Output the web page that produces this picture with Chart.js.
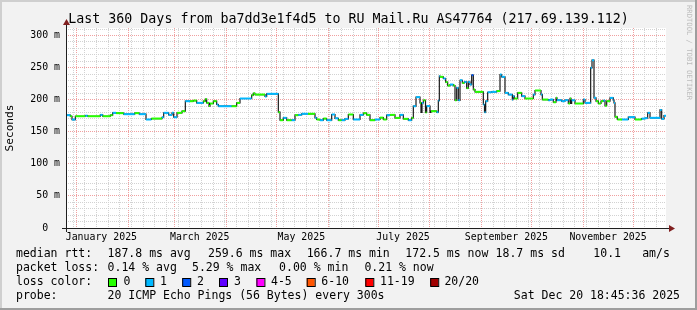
<!DOCTYPE html>
<html>
<head>
<meta charset="utf-8">
<title>Smokeping - RU Mail.Ru AS47764</title>
<script src="https://cdn.jsdelivr.net/npm/chart.js@4.4.1/dist/chart.umd.min.js"></script>
<style>
  html, body { margin: 0; padding: 0; background: #f2f2f2; }
  canvas { display: block; }
</style>
</head>
<body>
<canvas id="chart" width="697" height="310"></canvas>
<script>
'use strict';

// graph window: 360 days ending Sat Dec 20 18:45:36 2025
var windowDays = 360;
var startTime = Date.UTC(2024, 11, 25, 18, 45, 36);

// median rtt as steps: day (from window start) where the level begins, value in ms, loss colour index
var runDay = [
    0.6, 2.6, 3.6, 5.6, 11.6, 13.0, 20.6, 22.0, 26.6, 28.0,
    30.0, 34.6, 41.2, 44.0, 48.0, 51.2, 57.6, 58.6, 61.6, 63.6,
    64.6, 66.6, 69.6, 71.6, 74.4, 76.4, 78.4, 82.4, 83.6, 84.4,
    85.8, 86.4, 88.4, 90.4, 91.4, 99.4, 102.4, 104.4, 111.4, 112.4,
    113.4, 119.4, 120.4, 127.4, 128.4, 130.4, 132.4, 135.4, 137.4, 139.4,
    141.4, 145.2, 149.4, 150.4, 152.4, 154.4, 156.4, 159.4, 161.4, 163.4,
    165.4, 167.4, 169.4, 172.4, 176.4, 178.4, 180.4, 182.4, 185.4, 188.4,
    190.4, 192.4, 194.4, 197.4, 200.4, 202.4, 205.4, 207.4, 208.4, 210.0,
    212.4, 213.0, 213.6, 214.4, 215.7, 216.4, 218.4, 219.0, 222.4, 223.4,
    224.0, 224.4, 226.4, 227.8, 229.0, 230.4, 232.4, 233.4, 234.4, 235.4,
    236.4, 237.8, 239.0, 240.4, 241.4, 242.4, 243.4, 244.4, 245.4, 250.4,
    251.1, 251.8, 253.0, 255.4, 258.4, 260.4, 261.4, 263.4, 265.4, 267.8,
    268.2, 269.0, 271.0, 273.4, 275.4, 280.4, 281.4, 285.0, 285.8, 289.4,
    290.4, 292.4, 294.0, 294.6, 297.4, 299.4, 301.4, 302.4, 303.0, 303.4,
    305.4, 310.4, 311.4, 314.8, 315.6, 316.8, 318.0, 319.4, 321.0, 322.4,
    323.4, 324.4, 326.4, 328.4, 328.8, 329.4, 330.8, 333.6, 337.4, 341.4,
    345.4, 347.4, 349.0, 350.4, 356.4, 357.4, 358.8
];
var runMs = [
    175.8, 174.2, 169, 174.2, 175, 174.2, 176.3, 174.2, 175.8, 179.5,
    179, 177.4, 179, 177.4, 169.1, 170.6, 172.6, 179.5, 176.3, 179.5,
    172.6, 179.5, 182, 197.6, 197.6, 198.6, 195, 197.6, 201, 195,
    190, 194, 197.6, 192.5, 189.8, 189.8, 195, 201.8, 207, 210,
    208, 205, 209.1, 180.5, 168, 171.7, 168, 168, 175.8, 176.3,
    178, 178, 172, 169.1, 168, 170.6, 168, 176.9, 171, 168,
    168, 170, 176.9, 169.1, 176.3, 178.9, 176.3, 168, 169.1, 172,
    169.1, 175.8, 176.3, 171.6, 176.3, 170.1, 168, 171.6, 189.8, 203.9,
    195, 180, 195, 199, 180, 190, 180, 182, 180.5, 198.6,
    236.6, 235.6, 233, 227.3, 222, 223.6, 222, 199, 218.4, 199,
    230.3, 226, 227.7, 218, 227.7, 223.6, 238.2, 215.8, 212.2, 192.5,
    180.5, 197.6, 211.6, 212.2, 213.4, 239.2, 235.6, 210.6, 208, 200,
    205.5, 201.8, 210.6, 205.5, 201.8, 208, 214.3, 208, 200.2, 199.2,
    200.2, 196, 202.8, 199.2, 197.6, 199.2, 194, 202, 194, 199,
    194, 200.2, 195, 249.6, 261.5, 202.8, 197.6, 194, 197.6, 198.6,
    190.5, 197.6, 202.8, 199, 195, 173.3, 169.1, 169.1, 172.7, 169.1,
    170.5, 171.2, 179.5, 171.7, 184, 170, 175
];
var runLoss = [
    1, 0, 1, 0, 1, 0, 1, 0, 0, 1,
    0, 1, 0, 1, 1, 0, 1, 1, 1, 1,
    1, 0, 0, 1, 0, 0, 1, 0, 0, 0,
    0, 0, 0, 1, 1, 0, 0, 1, 0, 0,
    0, 1, 1, 0, 0, 1, 0, 1, 0, 1,
    1, 0, 1, 0, 1, 0, 1, 1, 1, 0,
    1, 1, 0, 1, 1, 0, 0, 0, 1, 0,
    0, 1, 0, 0, 1, 0, 1, 0, 1, 1,
    0, 0, 1, 0, 0, 1, 1, 0, 1, 1,
    1, 0, 1, 0, 0, 1, 0, 0, 1, 1,
    1, 0, 1, 0, 1, 1, 2, 0, 0, 1,
    1, 1, 1, 1, 0, 1, 1, 1, 1, 1,
    1, 0, 0, 1, 0, 1, 0, 1, 0, 1,
    1, 0, 0, 1, 1, 1, 0, 0, 0, 1,
    0, 1, 1, 1, 1, 1, 0, 0, 0, 1,
    0, 0, 1, 1, 1, 0, 0, 1, 1, 0,
    1, 1, 1, 1, 1, 1, 1
];

var lossLabels = ['0', '1', '2', '3', '4-5', '6-10', '11-19', '20/20'];
var lossColors = ['#26ff00', '#00b8ff', '#0059ff', '#5e00ff', '#ff00ff', '#ff5500', '#ff0000', '#a00000'];

var monthNames = ['January', 'February', 'March', 'April', 'May', 'June', 'July',
    'August', 'September', 'October', 'November', 'December'];
var labelMonths = [0, 2, 4, 6, 8, 10];
var labelYear = 2025;

var yMax = 311.7;
var yStep = 10;
var yLabelStep = 50;

var titleText = 'Last 360 Days from ba7dd3e1f4d5 to RU Mail.Ru AS47764 (217.69.139.112)';
var rttStats = ['median rtt:', '187.8 ms avg', '259.6 ms max', '166.7 ms min', '172.5 ms now', '18.7 ms sd', '10.1', 'am/s'];
var lossStats = ['packet loss:', '0.14 % avg', '5.29 % max', '0.00 % min', '0.21 % now'];
var probeStats = ['probe:', '20 ICMP Echo Pings (56 Bytes) every 300s'];
var stampText = 'Sat Dec 20 18:45:36 2025';

// footer layout (pixels)
var rttX = [16, 107.6, 208, 306.7, 405.3, 495.6, 593.3, 642.2];
var lossX = [16, 107.6, 192, 279.1, 364.4];
var boxX = [108, 145.3, 182.2, 219, 256.4, 306.7, 365.3, 430.2];
var boxLabelX = [123.6, 160, 197, 234, 271, 321.3, 380, 444.4];
var rowY = [254.5, 268.5, 282.5, 296];

var MONO = "'DejaVu Sans Mono', monospace";
var gridGray = '#d2d2d2';
var gridRed = '#f0a0a0';

function dayOf(t) {
    return (t - startTime) / 86400000;
}

// x ticks: weekly minor lines, monthly major lines, labels mid-month
var xTicks = (function () {
    var map = {};
    var t = Date.UTC(2024, 11, 30);
    while (dayOf(t) < windowDays) {
        map[dayOf(t).toFixed(4)] = {value: dayOf(t), kind: 'week'};
        t += 7 * 86400000;
    }
    for (var m = 0; m < 12; m++) {
        var d = dayOf(Date.UTC(labelYear, m, 1));
        map[d.toFixed(4)] = {value: d, kind: 'month'};
    }
    var list = Object.keys(map).map(function (k) { return map[k]; });
    labelMonths.forEach(function (m) {
        list.push({
            value: dayOf(Date.UTC(labelYear, m, 1)) + 15,
            kind: 'label',
            text: monthNames[m] + ' ' + labelYear
        });
    });
    list.sort(function (a, b) { return a.value - b.value; });
    return list;
})();

// black stepped median and the loss-coloured flat parts on top of it
var stepData = runDay.map(function (d, i) { return {x: d, y: runMs[i]}; });
stepData.push({x: windowDays, y: runMs[runMs.length - 1]});

var lossData = [];
runDay.forEach(function (d, i) {
    var end = i < runDay.length - 1 ? runDay[i + 1] : windowDays;
    lossData.push({x: d, y: runMs[i]});
    lossData.push({x: end, y: runMs[i]});
    lossData.push({x: end, y: null});
});

var rrdPlugin = {
    id: 'rrd',
    beforeDraw: function (chart) {
        var ctx = chart.ctx, a = chart.chartArea;
        ctx.save();
        ctx.fillStyle = '#f2f2f2';
        ctx.fillRect(0, 0, chart.width, chart.height);
        ctx.fillStyle = '#ffffff';
        ctx.fillRect(a.left, a.top, a.right - a.left, a.bottom - a.top);
        ctx.restore();
    },
    afterDraw: function (chart) {
        var ctx = chart.ctx, a = chart.chartArea;
        var W = chart.width, H = chart.height;
        var ax = a.left + 0.5, ay = a.bottom + 0.5;
        ctx.save();

        // axes and arrows
        ctx.strokeStyle = '#1f1f1f';
        ctx.lineWidth = 1;
        ctx.beginPath();
        ctx.moveTo(a.left - 4, ay);
        ctx.lineTo(a.right + 4, ay);
        ctx.moveTo(ax, a.bottom + 4);
        ctx.lineTo(ax, a.top - 4);
        ctx.stroke();
        ctx.fillStyle = '#801f1f';
        ctx.beginPath();
        ctx.moveTo(a.right + 3, ay - 3.5);
        ctx.lineTo(a.right + 3, ay + 3.5);
        ctx.lineTo(a.right + 9, ay);
        ctx.closePath();
        ctx.fill();
        ctx.beginPath();
        ctx.moveTo(ax - 3.5, a.top - 3);
        ctx.lineTo(ax + 3.5, a.top - 3);
        ctx.lineTo(ax, a.top - 9);
        ctx.closePath();
        ctx.fill();

        // title
        ctx.fillStyle = '#000';
        ctx.textBaseline = 'middle';
        ctx.textAlign = 'center';
        ctx.font = '13.3px ' + MONO;
        ctx.fillText(titleText, W / 2, 19.5);

        // footer legend
        ctx.textAlign = 'left';
        ctx.font = '11.5px ' + MONO;
        rttStats.forEach(function (s, i) { ctx.fillText(s, rttX[i], rowY[0]); });
        lossStats.forEach(function (s, i) { ctx.fillText(s, lossX[i], rowY[1]); });
        ctx.fillText('loss color:', 16, rowY[2]);
        lossLabels.forEach(function (s, i) {
            ctx.fillStyle = lossColors[i];
            ctx.fillRect(boxX[i], rowY[2] - 4.5, 8, 8);
            ctx.strokeStyle = '#000';
            ctx.strokeRect(boxX[i] + 0.5, rowY[2] - 4, 8, 8);
            ctx.fillStyle = '#000';
            ctx.fillText(s, boxLabelX[i], rowY[2]);
        });
        ctx.fillText(probeStats[0], 16, rowY[3]);
        ctx.fillText(probeStats[1], 107.6, rowY[3]);
        ctx.textAlign = 'right';
        ctx.fillText(stampText, 680, rowY[3]);

        // watermark
        ctx.save();
        ctx.translate(689, 5);
        ctx.rotate(Math.PI / 2);
        ctx.textAlign = 'left';
        ctx.fillStyle = '#bdbdbd';
        ctx.font = '7.2px ' + MONO;
        ctx.fillText('RRDTOOL / TOBI OETIKER', 0, 0);
        ctx.restore();

        // frame
        ctx.fillStyle = '#cfcfcf';
        ctx.fillRect(0, 0, W, 2);
        ctx.fillRect(0, 0, 2, H);
        ctx.fillStyle = '#9e9e9e';
        ctx.fillRect(0, H - 2, W, 2);
        ctx.fillRect(W - 2, 0, 2, H);
        ctx.restore();
    }
};

Chart.defaults.font.family = MONO;
Chart.defaults.color = '#000';

new Chart(document.getElementById('chart'), {
    type: 'line',
    data: {
        datasets: [
            {
                label: 'loss',
                data: lossData,
                order: 0,
                borderColor: lossColors[0],
                borderWidth: 2,
                borderCapStyle: 'butt',
                pointRadius: 0,
                spanGaps: false,
                fill: false,
                segment: {
                    borderColor: function (c) {
                        return lossColors[runLoss[Math.floor(c.p0DataIndex / 3)]];
                    }
                }
            },
            {
                label: 'median rtt',
                data: stepData,
                order: 1,
                stepped: true,
                borderColor: '#1a1a1a',
                borderWidth: 1.2,
                pointRadius: 0,
                fill: false
            }
        ]
    },
    options: {
        responsive: false,
        animation: false,
        events: [],
        layout: {padding: {top: 28, right: 31, left: 0, bottom: 0}},
        plugins: {legend: {display: false}, tooltip: {enabled: false}},
        scales: {
            x: {
                type: 'linear',
                min: 0,
                max: windowDays,
                afterBuildTicks: function (scale) { scale.ticks = xTicks.slice(); },
                afterFit: function (scale) { scale.height = 82; },
                grid: {
                    drawTicks: false,
                    color: function (c) {
                        if (!c.tick) return gridGray;
                        if (c.tick.kind === 'month') return gridRed;
                        if (c.tick.kind === 'label') return 'rgba(0,0,0,0)';
                        return gridGray;
                    }
                },
                border: {display: false, dash: [1, 1]},
                ticks: {
                    autoSkip: false,
                    maxRotation: 0,
                    padding: 3,
                    font: {size: 9.9},
                    callback: function (v, i) { return this.ticks[i].text || ''; }
                }
            },
            y: {
                min: 0,
                max: yMax,
                afterFit: function (scale) { scale.width = 66; },
                grid: {
                    drawTicks: false,
                    color: function (c) {
                        if (!c.tick) return gridGray;
                        return Math.round(c.tick.value) % yLabelStep === 0 ? gridRed : gridGray;
                    }
                },
                border: {display: false, dash: [1, 1]},
                ticks: {
                    stepSize: yStep,
                    autoSkip: false,
                    includeBounds: false,
                    padding: 6,
                    font: {size: 9.9},
                    callback: function (v) {
                        var r = Math.round(v);
                        if (r % yLabelStep !== 0) return '';
                        return r === 0 ? '0  ' : r + ' m';
                    }
                },
                title: {
                    display: true,
                    text: 'Seconds',
                    font: {size: 11.1},
                    padding: {top: 3, bottom: 0}
                }
            }
        }
    },
    plugins: [rrdPlugin]
});
</script>
</body>
</html>
